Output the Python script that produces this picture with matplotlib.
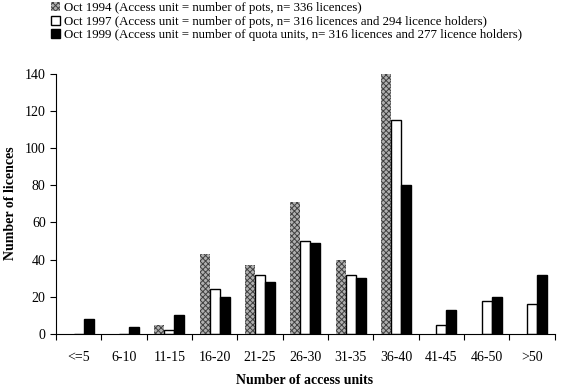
import matplotlib
matplotlib.use("Agg")
import matplotlib.pyplot as plt
import numpy as np

plt.rcParams['font.family'] = ['Liberation Serif', 'DejaVu Serif']
plt.rcParams['hatch.linewidth'] = 0.7

categories = ["<=5", "6-10", "11-15", "16-20", "21-25", "26-30",
              "31-35", "36-40", "41-45", "46-50", ">50"]
oct1994 = [0, 0, 5, 43, 37, 71, 40, 140, 0, 0, 0]
oct1997 = [0, 0, 2, 24, 32, 50, 32, 115, 5, 18, 16]
oct1999 = [8, 4, 10, 20, 28, 49, 30, 80, 13, 20, 32]
labels = ["Oct 1994 (Access unit = number of pots, n= 336 licences)",
          "Oct 1997 (Access unit = number of pots, n= 316 licences and 294 licence holders)",
          "Oct 1999 (Access unit = number of quota units, n= 316 licences and 277 licence holders)"]

fig = plt.figure(figsize=(5.72, 3.90), dpi=100)
ax = fig.add_axes([0.098, 0.1436, 0.872, 0.6674])

x = np.arange(len(categories)) + 0.5
w = 0.22
b1 = ax.bar(x - w, oct1994, w, facecolor="#b0b0b0", edgecolor="#404040",
            hatch="xxxxxx", linewidth=0, label=labels[0])
b2 = ax.bar(x, oct1997, w, facecolor="white", edgecolor="black",
            linewidth=1, label=labels[1])
b3 = ax.bar(x + w, oct1999, w, facecolor="black", edgecolor="black",
            linewidth=1, label=labels[2])

ax.set_xlim(0, len(categories))
ax.set_ylim(0, 140)
ax.set_yticks(range(0, 141, 20))
ax.set_xticks(range(len(categories) + 1))
ax.set_xticklabels([])
ax.set_xticks(x, minor=True)
ax.set_xticklabels(categories, minor=True)
ax.tick_params(axis="x", which="minor", length=0, pad=12, labelsize=10)
ax.tick_params(axis="x", which="major", length=4, direction="out")
ax.tick_params(axis="y", length=4, direction="out", labelsize=10)
for s in ["top", "right"]:
    ax.spines[s].set_visible(False)

fig.text(305 / 572, 1 - 381 / 390, "Number of access units", fontweight="bold",
         fontsize=10, ha="center", va="center")
fig.text(11 / 572, 1 - 203 / 390, "Number of licences", fontweight="bold",
         fontsize=10, ha="center", va="center", rotation=90)

fig.legend(handles=[b1, b2, b3], loc="upper left", bbox_to_anchor=(0.08, 1.008),
           frameon=False, fontsize=9.3, handlelength=0.7, handleheight=0.7,
           handletextpad=0.3, labelspacing=0.12, borderaxespad=0)

fig.savefig("out.png", dpi=100)
